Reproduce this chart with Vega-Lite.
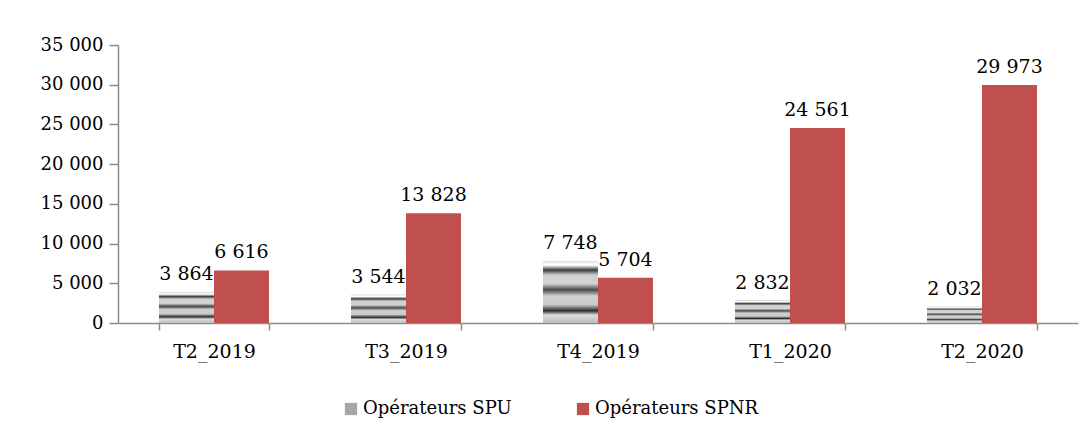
{
  "$schema": "https://vega.github.io/schema/vega-lite/v6.json",
  "autosize": "none",
  "width": 960,
  "height": 278,
  "padding": {"left": 118, "top": 45, "right": 13, "bottom": 116},
  "background": "white",
  "config": {
    "locale": {"number": {"decimal": ",", "thousands": " ", "grouping": [3], "currency": ["", " €"]}},
    "view": {"stroke": null},
    "font": "DejaVu Serif",
    "axis": {"labelFont": "DejaVu Serif", "labelFontSize": 18, "labelColor": "#000000", "domainColor": "#8c8c8c", "tickColor": "#8c8c8c", "domainWidth": 1.5, "tickWidth": 1.5},
    "legend": {"labelFont": "DejaVu Serif", "labelFontSize": 18, "labelColor": "#000000", "labelLimit": 400},
    "text": {"font": "DejaVu Serif"}
  },
  "data": {
    "values": [
      {"trimestre": "T2_2019", "serie": "Opérateurs SPU", "valeur": 3864},
      {"trimestre": "T2_2019", "serie": "Opérateurs SPNR", "valeur": 6616},
      {"trimestre": "T3_2019", "serie": "Opérateurs SPU", "valeur": 3544},
      {"trimestre": "T3_2019", "serie": "Opérateurs SPNR", "valeur": 13828},
      {"trimestre": "T4_2019", "serie": "Opérateurs SPU", "valeur": 7748},
      {"trimestre": "T4_2019", "serie": "Opérateurs SPNR", "valeur": 5704},
      {"trimestre": "T1_2020", "serie": "Opérateurs SPU", "valeur": 2832},
      {"trimestre": "T1_2020", "serie": "Opérateurs SPNR", "valeur": 24561},
      {"trimestre": "T2_2020", "serie": "Opérateurs SPU", "valeur": 2032},
      {"trimestre": "T2_2020", "serie": "Opérateurs SPNR", "valeur": 29973}
    ]
  },
  "encoding": {
    "x": {
      "field": "trimestre", "type": "nominal", "sort": null, "title": null,
      "scale": {"paddingInner": 0.427, "paddingOuter": 0.2135},
      "axis": {"labelAngle": 0, "labelPadding": 12, "labelFontSize": 19, "ticks": true, "tickBand": "extent", "tickSize": 7}
    },
    "xOffset": {"field": "serie", "type": "nominal", "sort": ["Opérateurs SPU", "Opérateurs SPNR"], "scale": {"domain": ["Opérateurs SPU", "Opérateurs SPNR"]}},
    "y": {
      "field": "valeur", "type": "quantitative", "title": null,
      "scale": {"domain": [0, 35000], "nice": false},
      "axis": {"values": [0, 5000, 10000, 15000, 20000, 25000, 30000, 35000], "format": ",d", "grid": false, "tickSize": 9, "labelPadding": 6}
    }
  },
  "layer": [
    {
      "mark": {"type": "bar"},
      "encoding": {
        "color": {
          "field": "serie", "type": "nominal", "title": null,
          "scale": {"domain": ["Opérateurs SPU", "Opérateurs SPNR"], "range": ["#a6a6a6", "#c0504d"]},
          "legend": {"orient": "none", "legendX": 224, "legendY": 355, "direction": "horizontal", "symbolType": "square", "symbolSize": 150, "symbolStrokeWidth": 0, "columnPadding": 62, "labelOffset": 3}
        }
      }
    },
    {
      "transform": [{"filter": "datum.serie === 'Opérateurs SPU'"}],
      "mark": {"type": "bar", "color": {"gradient": "linear", "x1": 0, "y1": 0, "x2": 0, "y2": 1, "stops": [
        {"offset": 0, "color": "#e8e8e8"},
        {"offset": 0.06, "color": "#ffffff"},
        {"offset": 0.14, "color": "#3a3a3a"},
        {"offset": 0.22, "color": "#cfcfcf"},
        {"offset": 0.36, "color": "#d4d4d4"},
        {"offset": 0.46, "color": "#4a4a4a"},
        {"offset": 0.56, "color": "#d0d0d0"},
        {"offset": 0.70, "color": "#cacaca"},
        {"offset": 0.80, "color": "#2e2e2e"},
        {"offset": 0.87, "color": "#dcdcdc"},
        {"offset": 1, "color": "#bdbdbd"}
      ]}},
      "encoding": {}
    },
    {
      "mark": {"type": "text", "baseline": "bottom", "dy": -8, "fontSize": 19, "font": "DejaVu Serif", "color": "#000000"},
      "encoding": {
        "text": {"field": "valeur", "type": "quantitative", "format": ",d"}
      }
    }
  ]
}
